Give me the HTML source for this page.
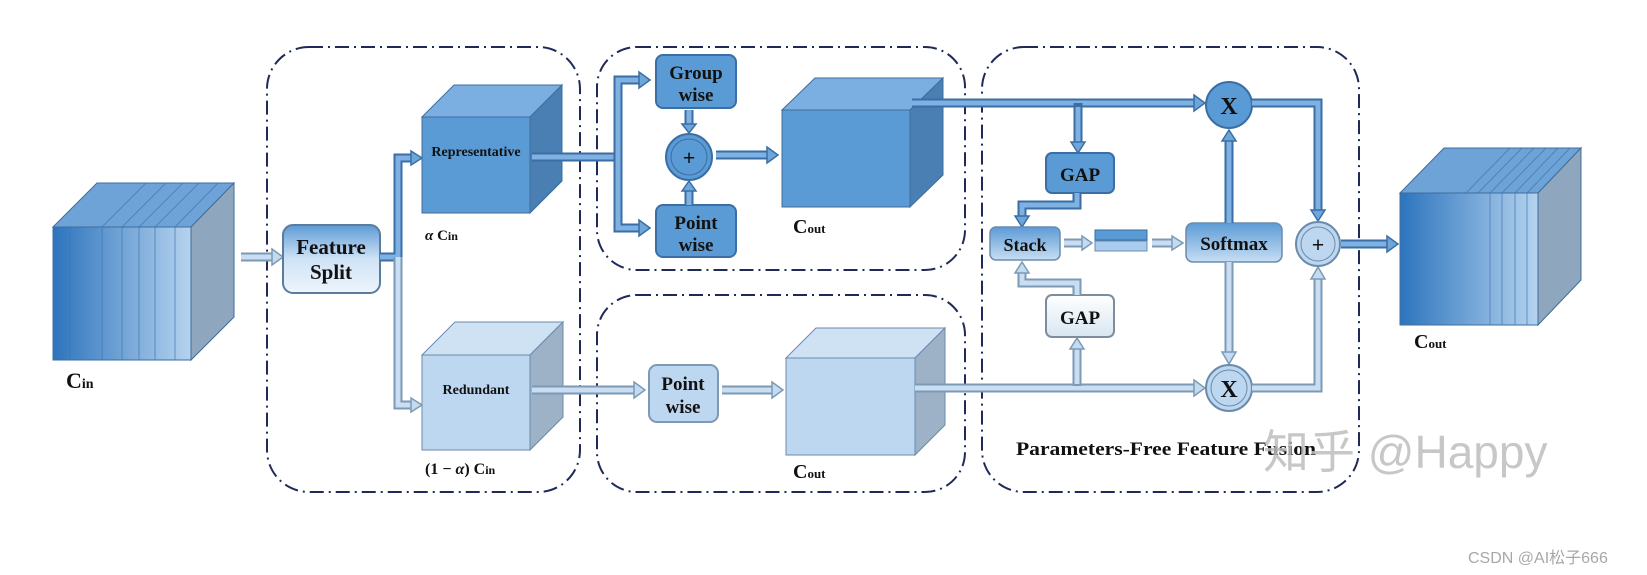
<!DOCTYPE html>
<html><head><meta charset="utf-8"><style>
html,body{margin:0;padding:0;background:#fff}
svg{display:block}
.t{font-family:"Liberation Serif",serif;font-weight:bold;fill:#111}
.reg{fill:none;stroke:#1f2a5a;stroke-width:2;stroke-dasharray:14 5 2 5}
.o{fill:none;stroke:#3a6ea5;stroke-width:9;stroke-linejoin:miter}
.i{fill:none;stroke:#7fb2e2;stroke-width:5;stroke-linejoin:miter}
.h{fill:#6ea6da;stroke:#3a6ea5;stroke-width:1.5}
.ol{fill:none;stroke:#7d9ab5;stroke-width:9}
.il{fill:none;stroke:#c9def2;stroke-width:5}
.hl{fill:#c3dbf1;stroke:#7d9ab5;stroke-width:1.5}
</style></head><body>
<svg width="1647" height="575" viewBox="0 0 1647 575" xmlns="http://www.w3.org/2000/svg">
<defs>
<linearGradient id="gin" x1="0" x2="1" y1="0" y2="0"><stop offset="0" stop-color="#2c74bd"/><stop offset="1" stop-color="#b6d3ef"/></linearGradient>
<linearGradient id="gbtn" x1="0" x2="0" y1="0" y2="1"><stop offset="0" stop-color="#5d9bd6"/><stop offset="0.5" stop-color="#cfe3f5"/><stop offset="1" stop-color="#eef5fc"/></linearGradient>
<linearGradient id="gst" x1="0" x2="0" y1="0" y2="1"><stop offset="0" stop-color="#5d9bd6"/><stop offset="1" stop-color="#c7def3"/></linearGradient>
<linearGradient id="gw" x1="0" x2="0" y1="0" y2="1"><stop offset="0" stop-color="#ffffff"/><stop offset="1" stop-color="#d8e6f2"/></linearGradient>
</defs>

<!-- regions -->
<rect class="reg" x="267" y="47" width="313" height="445" rx="42"/>
<rect class="reg" x="597" y="47" width="368" height="223" rx="40"/>
<rect class="reg" x="597" y="295" width="368" height="197" rx="40"/>
<rect class="reg" x="982" y="47" width="377" height="445" rx="42"/>

<!-- Cin cube -->
<polygon points="53,227 97,183 234,183 191,227" fill="#6ea3d8" stroke="#3e6d9c"/>
<polygon points="191,227 234,183 234,317 191,360" fill="#8ea7bf" stroke="#3e6d9c"/>
<rect x="53" y="227" width="138" height="133" fill="url(#gin)" stroke="#3e6d9c"/>
<g stroke="#3f77b0" stroke-width="1" opacity="0.7">
<line x1="70" y1="227" x2="70" y2="360"/><line x1="102" y1="227" x2="102" y2="360"/><line x1="122" y1="227" x2="122" y2="360"/><line x1="139" y1="227" x2="139" y2="360"/><line x1="155" y1="227" x2="155" y2="360"/><line x1="175" y1="227" x2="175" y2="360"/>
<line x1="102" y1="227" x2="146" y2="183"/><line x1="122" y1="227" x2="166" y2="183"/><line x1="139" y1="227" x2="183" y2="183"/><line x1="155" y1="227" x2="199" y2="183"/><line x1="175" y1="227" x2="218" y2="183"/>
</g>
<text class="t" x="66" y="388" font-size="22">C<tspan font-size="14">in</tspan></text>

<!-- Feature split -->
<path class="ol" d="M241,257 H273"/><path class="il" d="M241,257 H273"/><polygon class="hl" points="272,249 283,257 272,265"/>
<rect x="283" y="225" width="97" height="68" rx="10" fill="url(#gbtn)" stroke="#5a7d9e" stroke-width="2"/>
<text class="t" x="331" y="254" font-size="21" text-anchor="middle">Feature</text>
<text class="t" x="331" y="279" font-size="21" text-anchor="middle">Split</text>
<path class="o" d="M380,257 H398 V158 H412"/><path class="i" d="M380,257 H398 V158 H412"/><polygon class="h" points="411,151 422,158 411,165"/>
<path class="ol" d="M398,257 V405 H412"/><path class="il" d="M398,257 V405 H412"/><polygon class="hl" points="411,398 422,405 411,412"/>

<!-- Representative cube -->
<polygon points="422,117 454,85 562,85 530,117" fill="#7cafe1" stroke="#3e6d9c"/>
<polygon points="530,117 562,85 562,181 530,213" fill="#4a7fb3" stroke="#3e6d9c"/>
<rect x="422" y="117" width="108" height="96" fill="#5b9bd5" stroke="#3e6d9c"/>
<text class="t" x="476" y="156" font-size="14" text-anchor="middle">Representative</text>
<text class="t" x="425" y="240" font-size="15"><tspan font-style="italic">α</tspan> C<tspan font-size="12">in</tspan></text>

<!-- Redundant cube -->
<polygon points="422,355 455,322 563,322 530,355" fill="#cfe2f4" stroke="#6b8bab"/>
<polygon points="530,355 563,322 563,417 530,450" fill="#9db2c6" stroke="#6b8bab"/>
<rect x="422" y="355" width="108" height="95" fill="#bcd7ef" stroke="#6b8bab"/>
<text class="t" x="476" y="394" font-size="14" text-anchor="middle">Redundant</text>
<text class="t" x="425" y="474" font-size="16">(1 − <tspan font-style="italic">α</tspan>) C<tspan font-size="12">in</tspan></text>

<!-- region 2 -->
<path class="o" d="M532,157 H618"/><path class="i" d="M532,157 H618"/>
<path class="o" d="M618,157 V80 H640"/><path class="i" d="M618,157 V80 H640"/><polygon class="h" points="639,72 650,80 639,88"/>
<path class="o" d="M618,157 V228 H640"/><path class="i" d="M618,157 V228 H640"/><polygon class="h" points="639,220 650,228 639,236"/>
<rect x="656" y="55" width="80" height="53" rx="7" fill="#5b9bd5" stroke="#3a6ea5" stroke-width="2"/>
<text class="t" x="696" y="79" font-size="19" text-anchor="middle">Group</text>
<text class="t" x="696" y="101" font-size="19" text-anchor="middle">wise</text>
<rect x="656" y="205" width="80" height="52" rx="7" fill="#5b9bd5" stroke="#3a6ea5" stroke-width="2"/>
<text class="t" x="696" y="229" font-size="19" text-anchor="middle">Point</text>
<text class="t" x="696" y="251" font-size="19" text-anchor="middle">wise</text>
<path class="o" d="M689,110 V125"/><path class="i" d="M689,110 V125"/><polygon class="h" points="682,124 689,133 696,124"/>
<path class="o" d="M689,205 V190"/><path class="i" d="M689,205 V190"/><polygon class="h" points="682,191 689,181 696,191"/>
<circle cx="689" cy="157" r="23" fill="#5b9bd5" stroke="#3a6ea5" stroke-width="2"/>
<circle cx="689" cy="157" r="18" fill="none" stroke="#3a6ea5" stroke-width="1"/>
<text class="t" x="689" y="165" font-size="22" text-anchor="middle" font-weight="normal">+</text>
<path class="o" d="M716,155 H768"/><path class="i" d="M716,155 H768"/><polygon class="h" points="767,147 778,155 767,163"/>
<polygon points="782,110 815,78 943,78 910,110" fill="#7cafe1" stroke="#3e6d9c"/>
<polygon points="910,110 943,78 943,175 910,207" fill="#4a7fb3" stroke="#3e6d9c"/>
<rect x="782" y="110" width="128" height="97" fill="#5b9bd5" stroke="#3e6d9c"/>
<text class="t" x="793" y="233" font-size="20">C<tspan font-size="13">out</tspan></text>

<!-- region 3 -->
<path class="ol" d="M532,390 H635"/><path class="il" d="M532,390 H635"/><polygon class="hl" points="634,382 645,390 634,398"/>
<rect x="649" y="365" width="69" height="57" rx="8" fill="#bcd7ef" stroke="#7d9ab5" stroke-width="2"/>
<text class="t" x="683" y="390" font-size="19" text-anchor="middle">Point</text>
<text class="t" x="683" y="413" font-size="19" text-anchor="middle">wise</text>
<path class="ol" d="M722,390 H773"/><path class="il" d="M722,390 H773"/><polygon class="hl" points="772,382 783,390 772,398"/>
<polygon points="786,358 816,328 945,328 915,358" fill="#cfe2f4" stroke="#6b8bab"/>
<polygon points="915,358 945,328 945,425 915,455" fill="#9db2c6" stroke="#6b8bab"/>
<rect x="786" y="358" width="129" height="97" fill="#bcd7ef" stroke="#6b8bab"/>
<text class="t" x="793" y="478" font-size="20">C<tspan font-size="13">out</tspan></text>

<!-- region 4 -->
<path class="o" d="M912,103 H1195"/><path class="i" d="M912,103 H1195"/><polygon class="h" points="1194,95 1205,103 1194,111"/>
<path class="o" d="M1078,103 V143"/><path class="i" d="M1078,107 V143"/><polygon class="h" points="1071,142 1078,153 1085,142"/>
<rect x="1046" y="153" width="68" height="40" rx="6" fill="#5b9bd5" stroke="#3a6ea5" stroke-width="2"/>
<text class="t" x="1080" y="181" font-size="19" text-anchor="middle">GAP</text>
<path class="o" d="M1077,193 V205 H1022 V217"/><path class="i" d="M1077,193 V205 H1022 V217"/><polygon class="h" points="1015,216 1022,227 1029,216"/>
<rect x="990" y="227" width="70" height="33" rx="6" fill="url(#gst)" stroke="#6b8bab" stroke-width="1.5"/>
<text class="t" x="1025" y="251" font-size="18" text-anchor="middle">Stack</text>
<path class="ol" d="M1064,243 H1083"/><path class="il" d="M1064,243 H1083"/><polygon class="hl" points="1082,236 1092,243 1082,250"/>
<rect x="1095" y="230" width="52" height="10" fill="#5b9bd5" stroke="#3a6ea5"/>
<rect x="1095" y="241" width="52" height="10" fill="#a9cbed" stroke="#6b8bab"/>
<path class="ol" d="M1152,243 H1173"/><path class="il" d="M1152,243 H1173"/><polygon class="hl" points="1172,236 1183,243 1172,250"/>
<rect x="1186" y="223" width="96" height="39" rx="7" fill="url(#gst)" stroke="#6b8bab" stroke-width="1.5"/>
<text class="t" x="1234" y="250" font-size="19" text-anchor="middle">Softmax</text>
<path class="o" d="M1229,223 V140"/><path class="i" d="M1229,223 V140"/><polygon class="h" points="1222,141 1229,130 1236,141"/>
<path class="ol" d="M1229,262 V353"/><path class="il" d="M1229,262 V353"/><polygon class="hl" points="1222,352 1229,364 1236,352"/>
<path class="ol" d="M915,388 H1195"/><path class="il" d="M915,388 H1195"/><polygon class="hl" points="1194,380 1205,388 1194,396"/>
<path class="ol" d="M1077,386 V348"/><path class="il" d="M1077,384 V348"/><polygon class="hl" points="1070,349 1077,338 1084,349"/>
<rect x="1046" y="295" width="68" height="42" rx="6" fill="url(#gw)" stroke="#7d8d9c" stroke-width="2"/>
<text class="t" x="1080" y="324" font-size="19" text-anchor="middle">GAP</text>
<path class="ol" d="M1077,295 V283 H1022 V272"/><path class="il" d="M1077,295 V283 H1022 V272"/><polygon class="hl" points="1015,273 1022,262 1029,273"/>
<circle cx="1229" cy="105" r="23" fill="#5b9bd5" stroke="#3a6ea5" stroke-width="2"/>
<text class="t" x="1229" y="114" font-size="24" text-anchor="middle">X</text>
<circle cx="1229" cy="388" r="23" fill="#bcd7ef" stroke="#6b8bab" stroke-width="2"/>
<circle cx="1229" cy="388" r="18" fill="none" stroke="#6b8bab" stroke-width="1"/>
<text class="t" x="1229" y="397" font-size="24" text-anchor="middle">X</text>
<path class="o" d="M1252,103 H1318 V211"/><path class="i" d="M1252,103 H1318 V211"/><polygon class="h" points="1311,210 1318,221 1325,210"/>
<path class="ol" d="M1252,388 H1318 V278"/><path class="il" d="M1252,388 H1318 V278"/><polygon class="hl" points="1311,279 1318,267 1325,279"/>
<circle cx="1318" cy="244" r="22" fill="#bcd7ef" stroke="#6b8bab" stroke-width="2"/>
<circle cx="1318" cy="244" r="17" fill="none" stroke="#6b8bab" stroke-width="1"/>
<text class="t" x="1318" y="252" font-size="22" text-anchor="middle" font-weight="normal">+</text>
<path class="o" d="M1341,244 H1388"/><path class="i" d="M1341,244 H1388"/><polygon class="h" points="1387,236 1398,244 1387,252"/>
<text class="t" x="1016" y="455" font-size="19" textLength="300" lengthAdjust="spacingAndGlyphs">Parameters-Free Feature Fusion</text>

<!-- output cube -->
<polygon points="1400,193 1444,148 1581,148 1538,193" fill="#6ea3d8" stroke="#3e6d9c"/>
<polygon points="1538,193 1581,148 1581,280 1538,325" fill="#8ea7bf" stroke="#3e6d9c"/>
<rect x="1400" y="193" width="138" height="132" fill="url(#gin)" stroke="#3e6d9c"/>
<g stroke="#3f77b0" stroke-width="1" opacity="0.7">
<line x1="1490" y1="193" x2="1490" y2="325"/><line x1="1502" y1="193" x2="1502" y2="325"/><line x1="1515" y1="193" x2="1515" y2="325"/><line x1="1527" y1="193" x2="1527" y2="325"/>
<line x1="1490" y1="193" x2="1534" y2="148"/><line x1="1502" y1="193" x2="1546" y2="148"/><line x1="1515" y1="193" x2="1558" y2="148"/><line x1="1527" y1="193" x2="1570" y2="148"/><line x1="1478" y1="193" x2="1522" y2="148"/><line x1="1466" y1="193" x2="1510" y2="148"/>
</g>
<text class="t" x="1414" y="348" font-size="20">C<tspan font-size="13">out</tspan></text>

<!-- watermarks -->
<text x="1263" y="468" font-family="'Liberation Sans','Noto Sans CJK SC',sans-serif" font-size="46" fill="#bdbdbd" fill-opacity="0.85">知乎 @Happy</text>
<text x="1468" y="563" font-family="'Liberation Sans','Noto Sans CJK SC',sans-serif" font-size="16" fill="#a8a8a8">CSDN @AI松子666</text>
</svg>
</body></html>
